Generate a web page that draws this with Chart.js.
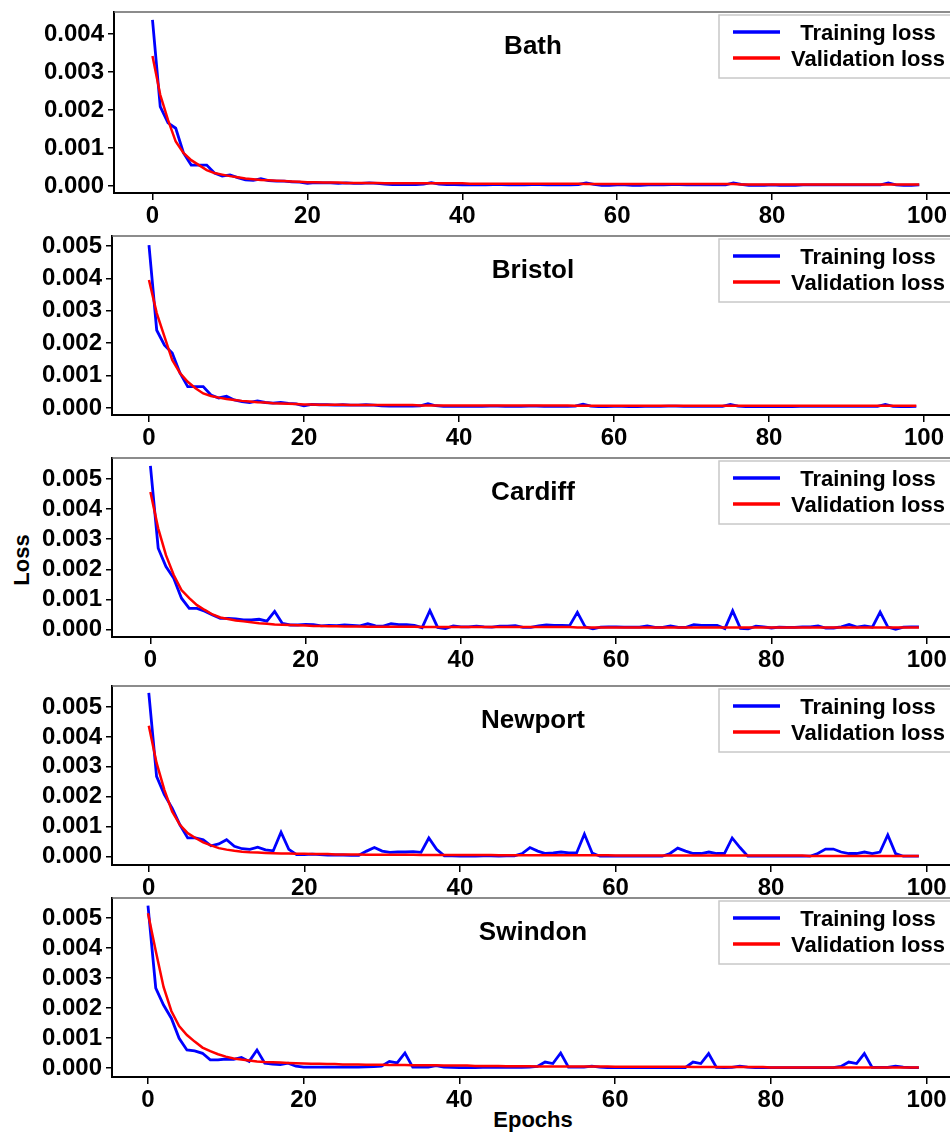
<!DOCTYPE html>
<html>
<head>
<meta charset="utf-8">
<title>Training and validation loss</title>
<script src="https://cdn.jsdelivr.net/npm/chart.js@4.4.1/dist/chart.umd.min.js"></script>
<style>
  html, body { margin: 0; padding: 0; background: #fff; }
  body { width: 950px; height: 1133px; position: relative; overflow: hidden; font-family: "Liberation Sans", Arial, sans-serif; }
  canvas { position: absolute; left: 0; }
  .axis-label { position: absolute; font-weight: bold; font-size: 22px; color: #000; white-space: nowrap; }
  #lossLabel { left: 22px; top: 560px; transform: translate(-50%, -50%) rotate(-90deg); }
  #epochsLabel { left: 533px; top: 1120px; transform: translate(-50%, -50%); }
</style>
</head>
<body>
<div class="axis-label" id="lossLabel">Loss</div>
<div class="axis-label" id="epochsLabel">Epochs</div>
<script>
const cities = ["Bath", "Bristol", "Cardiff", "Newport", "Swindon"]
const epochs = Array.from({ length: 100 }, (_, i) => i)
const yTicks = [0, 0.001, 0.002, 0.003, 0.004, 0.005]
const xTicks = [0, 20, 40, 60, 80, 100]

const bathTrain = [
  0.00437, 0.00209, 0.00166, 0.00152, 0.00087, 0.00055, 0.00055, 0.00055, 0.00034, 0.00026,
  0.00029, 0.00022, 0.00016, 0.00015, 0.00019, 0.00014, 0.00013, 0.00013, 0.00011, 0.00010,
  0.00007, 0.00009, 0.00008, 0.00008, 0.00007, 0.00008, 0.00007, 0.00007, 0.00008, 0.00007,
  0.00005, 0.00004, 0.00004, 0.00004, 0.00004, 0.00005, 0.00009, 0.00005, 0.00004, 0.00004,
  0.00003, 0.00003, 0.00003, 0.00003, 0.00004, 0.00004, 0.00003, 0.00003, 0.00003, 0.00004,
  0.00004, 0.00003, 0.00003, 0.00003, 0.00003, 0.00004, 0.00008, 0.00004, 0.00002, 0.00002,
  0.00003, 0.00003, 0.00002, 0.00002, 0.00003, 0.00003, 0.00003, 0.00004, 0.00004, 0.00003,
  0.00003, 0.00003, 0.00003, 0.00003, 0.00003, 0.00008, 0.00004, 0.00002, 0.00002, 0.00002,
  0.00003, 0.00002, 0.00002, 0.00002, 0.00003, 0.00003, 0.00003, 0.00003, 0.00003, 0.00003,
  0.00003, 0.00003, 0.00003, 0.00003, 0.00003, 0.00008, 0.00003, 0.00002, 0.00002, 0.00003,
]
const bathVal = [
  0.00342, 0.00240, 0.00174, 0.00117, 0.00087, 0.00068, 0.00055, 0.00042, 0.00034, 0.00030,
  0.00026, 0.00023, 0.00020, 0.00018, 0.00016, 0.00015, 0.00014, 0.00013, 0.00012, 0.00011,
  0.00010, 0.00010, 0.00009, 0.00009, 0.00009, 0.00008, 0.00008, 0.00008, 0.00008, 0.00008,
  0.00007, 0.00007, 0.00007, 0.00007, 0.00007, 0.00007, 0.00007, 0.00007, 0.00007, 0.00007,
  0.00007, 0.00006, 0.00006, 0.00006, 0.00006, 0.00006, 0.00006, 0.00006, 0.00006, 0.00006,
  0.00006, 0.00006, 0.00006, 0.00006, 0.00006, 0.00006, 0.00005, 0.00005, 0.00005, 0.00005,
  0.00005, 0.00005, 0.00005, 0.00005, 0.00005, 0.00005, 0.00005, 0.00005, 0.00005, 0.00005,
  0.00005, 0.00005, 0.00005, 0.00005, 0.00005, 0.00005, 0.00004, 0.00004, 0.00004, 0.00004,
  0.00004, 0.00004, 0.00004, 0.00004, 0.00004, 0.00004, 0.00004, 0.00004, 0.00004, 0.00004,
  0.00004, 0.00004, 0.00004, 0.00004, 0.00004, 0.00004, 0.00004, 0.00004, 0.00004, 0.00004,
]

const bristolTrain = [
  0.00503, 0.00240, 0.00194, 0.00170, 0.00108, 0.00066, 0.00066, 0.00066, 0.00040, 0.00031,
  0.00036, 0.00025, 0.00020, 0.00017, 0.00022, 0.00017, 0.00015, 0.00017, 0.00014, 0.00013,
  0.00007, 0.00011, 0.00010, 0.00010, 0.00009, 0.00010, 0.00009, 0.00009, 0.00010, 0.00009,
  0.00007, 0.00006, 0.00006, 0.00006, 0.00006, 0.00007, 0.00013, 0.00007, 0.00005, 0.00005,
  0.00005, 0.00005, 0.00005, 0.00005, 0.00006, 0.00006, 0.00005, 0.00005, 0.00005, 0.00006,
  0.00006, 0.00005, 0.00005, 0.00005, 0.00005, 0.00006, 0.00012, 0.00006, 0.00004, 0.00004,
  0.00005, 0.00005, 0.00004, 0.00004, 0.00005, 0.00005, 0.00005, 0.00006, 0.00006, 0.00005,
  0.00005, 0.00005, 0.00005, 0.00005, 0.00005, 0.00011, 0.00006, 0.00004, 0.00004, 0.00004,
  0.00005, 0.00004, 0.00004, 0.00004, 0.00005, 0.00005, 0.00005, 0.00005, 0.00005, 0.00005,
  0.00005, 0.00005, 0.00005, 0.00005, 0.00005, 0.00011, 0.00005, 0.00004, 0.00004, 0.00005,
]
const bristolVal = [
  0.00395, 0.00293, 0.00220, 0.00148, 0.00108, 0.00081, 0.00061, 0.00045, 0.00037, 0.00032,
  0.00028, 0.00025, 0.00022, 0.00020, 0.00018, 0.00017, 0.00015, 0.00014, 0.00013, 0.00012,
  0.00011, 0.00011, 0.00010, 0.00010, 0.00010, 0.00010, 0.00009, 0.00009, 0.00009, 0.00009,
  0.00009, 0.00009, 0.00009, 0.00009, 0.00009, 0.00008, 0.00008, 0.00008, 0.00008, 0.00008,
  0.00008, 0.00008, 0.00008, 0.00008, 0.00008, 0.00008, 0.00008, 0.00008, 0.00008, 0.00008,
  0.00008, 0.00008, 0.00008, 0.00008, 0.00008, 0.00007, 0.00007, 0.00007, 0.00007, 0.00007,
  0.00007, 0.00007, 0.00007, 0.00007, 0.00007, 0.00007, 0.00007, 0.00007, 0.00007, 0.00007,
  0.00007, 0.00007, 0.00007, 0.00007, 0.00007, 0.00007, 0.00007, 0.00007, 0.00007, 0.00007,
  0.00007, 0.00007, 0.00007, 0.00007, 0.00007, 0.00007, 0.00007, 0.00007, 0.00007, 0.00007,
  0.00007, 0.00007, 0.00007, 0.00007, 0.00007, 0.00007, 0.00007, 0.00007, 0.00007, 0.00007,
]

const cardiffTrain = [
  0.00544, 0.00270, 0.00209, 0.00170, 0.00104, 0.00070, 0.00070, 0.00061, 0.00048, 0.00037,
  0.00037, 0.00035, 0.00032, 0.00032, 0.00034, 0.00028, 0.00060, 0.00020, 0.00015, 0.00015,
  0.00017, 0.00016, 0.00012, 0.00014, 0.00013, 0.00015, 0.00014, 0.00012, 0.00019, 0.00012,
  0.00011, 0.00019, 0.00016, 0.00016, 0.00014, 0.00006, 0.00063, 0.00007, 0.00003, 0.00012,
  0.00009, 0.00009, 0.00011, 0.00009, 0.00008, 0.00011, 0.00011, 0.00013, 0.00007, 0.00007,
  0.00012, 0.00015, 0.00014, 0.00014, 0.00013, 0.00057, 0.00009, 0.00002, 0.00008, 0.00009,
  0.00009, 0.00008, 0.00008, 0.00008, 0.00012, 0.00007, 0.00007, 0.00012, 0.00007, 0.00007,
  0.00016, 0.00014, 0.00014, 0.00014, 0.00003, 0.00062, 0.00004, 0.00002, 0.00011, 0.00009,
  0.00005, 0.00008, 0.00007, 0.00007, 0.00009, 0.00009, 0.00012, 0.00005, 0.00005, 0.00009,
  0.00017, 0.00008, 0.00012, 0.00008, 0.00058, 0.00008, 0.00001, 0.00008, 0.00009, 0.00009,
]
const cardiffVal = [
  0.00457, 0.00336, 0.00247, 0.00181, 0.00131, 0.00104, 0.00081, 0.00065, 0.00050, 0.00040,
  0.00035, 0.00030, 0.00027, 0.00024, 0.00021, 0.00019, 0.00017, 0.00016, 0.00015, 0.00014,
  0.00013, 0.00012, 0.00012, 0.00011, 0.00011, 0.00010, 0.00010, 0.00010, 0.00009, 0.00009,
  0.00009, 0.00009, 0.00009, 0.00009, 0.00009, 0.00008, 0.00008, 0.00008, 0.00008, 0.00008,
  0.00008, 0.00008, 0.00008, 0.00008, 0.00008, 0.00008, 0.00008, 0.00008, 0.00008, 0.00008,
  0.00008, 0.00008, 0.00008, 0.00008, 0.00008, 0.00007, 0.00007, 0.00007, 0.00007, 0.00007,
  0.00007, 0.00007, 0.00007, 0.00007, 0.00007, 0.00007, 0.00007, 0.00007, 0.00007, 0.00007,
  0.00007, 0.00007, 0.00007, 0.00007, 0.00007, 0.00007, 0.00007, 0.00007, 0.00007, 0.00007,
  0.00007, 0.00007, 0.00007, 0.00007, 0.00007, 0.00007, 0.00007, 0.00007, 0.00007, 0.00007,
  0.00007, 0.00007, 0.00007, 0.00007, 0.00007, 0.00007, 0.00007, 0.00007, 0.00007, 0.00007,
]

const newportTrain = [
  0.00547, 0.00268, 0.00207, 0.00162, 0.00106, 0.00062, 0.00062, 0.00056, 0.00036, 0.00042,
  0.00056, 0.00034, 0.00026, 0.00024, 0.00031, 0.00022, 0.00019, 0.00081, 0.00024, 0.00006,
  0.00006, 0.00008, 0.00006, 0.00005, 0.00005, 0.00005, 0.00004, 0.00004, 0.00018, 0.00030,
  0.00018, 0.00014, 0.00015, 0.00015, 0.00016, 0.00014, 0.00062, 0.00024, 0.00002, 0.00002,
  0.00001, 0.00002, 0.00001, 0.00002, 0.00002, 0.00001, 0.00002, 0.00002, 0.00010, 0.00030,
  0.00018, 0.00010, 0.00012, 0.00015, 0.00012, 0.00012, 0.00075, 0.00012, 0.00001, 0.00001,
  0.00001, 0.00001, 0.00001, 0.00001, 0.00001, 0.00001, 0.00001, 0.00010, 0.00028, 0.00018,
  0.00010, 0.00010, 0.00015, 0.00010, 0.00010, 0.00062, 0.00030, 0.00001, 0.00001, 0.00001,
  0.00001, 0.00001, 0.00001, 0.00001, 0.00001, 0.00001, 0.00010, 0.00025, 0.00025, 0.00015,
  0.00010, 0.00010, 0.00015, 0.00010, 0.00015, 0.00072, 0.00010, 0.00001, 0.00001, 0.00001,
]
const newportVal = [
  0.00437, 0.00313, 0.00223, 0.00151, 0.00106, 0.00078, 0.00062, 0.00047, 0.00037, 0.00028,
  0.00023, 0.00019, 0.00016, 0.00014, 0.00013, 0.00012, 0.00011, 0.00010, 0.00010, 0.00009,
  0.00009, 0.00008, 0.00008, 0.00008, 0.00007, 0.00007, 0.00007, 0.00007, 0.00006, 0.00006,
  0.00006, 0.00006, 0.00006, 0.00006, 0.00006, 0.00005, 0.00005, 0.00005, 0.00005, 0.00005,
  0.00005, 0.00005, 0.00005, 0.00005, 0.00005, 0.00004, 0.00004, 0.00004, 0.00004, 0.00004,
  0.00004, 0.00004, 0.00004, 0.00004, 0.00004, 0.00004, 0.00004, 0.00004, 0.00004, 0.00004,
  0.00003, 0.00003, 0.00003, 0.00003, 0.00003, 0.00003, 0.00003, 0.00003, 0.00003, 0.00003,
  0.00003, 0.00003, 0.00003, 0.00003, 0.00003, 0.00003, 0.00003, 0.00003, 0.00003, 0.00003,
  0.00003, 0.00003, 0.00003, 0.00003, 0.00003, 0.00002, 0.00002, 0.00002, 0.00002, 0.00002,
  0.00002, 0.00002, 0.00002, 0.00002, 0.00002, 0.00002, 0.00002, 0.00002, 0.00002, 0.00002,
]

const swindonTrain = [
  0.00541, 0.00266, 0.00210, 0.00166, 0.00099, 0.00060, 0.00057, 0.00049, 0.00027, 0.00027,
  0.00030, 0.00029, 0.00035, 0.00022, 0.00060, 0.00016, 0.00013, 0.00011, 0.00016, 0.00006,
  0.00003, 0.00003, 0.00003, 0.00003, 0.00003, 0.00003, 0.00003, 0.00003, 0.00004, 0.00005,
  0.00006, 0.00022, 0.00017, 0.00050, 0.00003, 0.00003, 0.00003, 0.00008, 0.00003, 0.00002,
  0.00001, 0.00001, 0.00001, 0.00002, 0.00002, 0.00002, 0.00002, 0.00002, 0.00002, 0.00003,
  0.00005, 0.00020, 0.00015, 0.00050, 0.00003, 0.00003, 0.00003, 0.00006, 0.00003, 0.00001,
  0.00001, 0.00001, 0.00001, 0.00001, 0.00001, 0.00001, 0.00001, 0.00001, 0.00001, 0.00001,
  0.00020, 0.00015, 0.00048, 0.00002, 0.00001, 0.00002, 0.00006, 0.00003, 0.00001, 0.00001,
  0.00001, 0.00001, 0.00001, 0.00001, 0.00001, 0.00001, 0.00001, 0.00001, 0.00001, 0.00005,
  0.00020, 0.00015, 0.00048, 0.00002, 0.00002, 0.00002, 0.00006, 0.00003, 0.00001, 0.00001,
]
const swindonVal = [
  0.00516, 0.00390, 0.00270, 0.00190, 0.00140, 0.00110, 0.00088, 0.00068, 0.00056, 0.00046,
  0.00038, 0.00032, 0.00028, 0.00025, 0.00022, 0.00020, 0.00019, 0.00018, 0.00017, 0.00016,
  0.00015, 0.00014, 0.00014, 0.00013, 0.00013, 0.00012, 0.00012, 0.00012, 0.00011, 0.00011,
  0.00011, 0.00010, 0.00010, 0.00010, 0.00009, 0.00009, 0.00009, 0.00009, 0.00008, 0.00008,
  0.00008, 0.00008, 0.00007, 0.00007, 0.00007, 0.00007, 0.00006, 0.00006, 0.00006, 0.00006,
  0.00005, 0.00005, 0.00005, 0.00005, 0.00005, 0.00005, 0.00005, 0.00005, 0.00005, 0.00005,
  0.00004, 0.00004, 0.00004, 0.00004, 0.00004, 0.00004, 0.00004, 0.00004, 0.00004, 0.00004,
  0.00003, 0.00003, 0.00003, 0.00003, 0.00003, 0.00003, 0.00003, 0.00003, 0.00003, 0.00003,
  0.00002, 0.00002, 0.00002, 0.00002, 0.00002, 0.00002, 0.00002, 0.00002, 0.00002, 0.00002,
  0.00002, 0.00002, 0.00002, 0.00002, 0.00002, 0.00002, 0.00002, 0.00002, 0.00002, 0.00002,
]

const trainLoss = [bathTrain, bristolTrain, cardiffTrain, newportTrain, swindonTrain]
const valLoss = [bathVal, bristolVal, cardiffVal, newportVal, swindonVal]

// page layout of each subplot (pixel box of the plot area + axis limits)
const panels = [
  { top: 12, bottom: 193, left: 114, xMin: -4.97, xMax: 102.97, yMin: -0.000184, yMax: 0.004579 },
  { top: 236, bottom: 415, left: 112, xMin: -4.77, xMax: 103.35, yMin: -0.000216, yMax: 0.005309 },
  { top: 458, bottom: 637, left: 112, xMin: -4.95, xMax: 103.0, yMin: -0.000249, yMax: 0.005698 },
  { top: 686, bottom: 865, left: 112, xMin: -4.73, xMax: 103.0, yMin: -0.000284, yMax: 0.005702 },
  { top: 898, bottom: 1077, left: 112, xMin: -4.62, xMax: 103.0, yMin: -0.0003, yMax: 0.005667 },
]

const BLUE = "#0000ff"
const RED = "#ff0000"
const FONT = "'Liberation Sans', Arial, sans-serif"
const PAD_TOP = 10
const X_AXIS_H = 40

// city title, top spine and boxed legend inside the plot area
const panelDecor = {
  id: "panelDecor",
  afterDraw(chart, args, opts) {
    const { ctx, chartArea } = chart
    ctx.save()
    ctx.strokeStyle = "#666"
    ctx.lineWidth = 1.5
    ctx.beginPath()
    ctx.moveTo(chartArea.left, chartArea.top)
    ctx.lineTo(chartArea.right, chartArea.top)
    ctx.stroke()

    ctx.fillStyle = "#000"
    ctx.font = "bold 26px " + FONT
    ctx.textAlign = "center"
    ctx.textBaseline = "middle"
    ctx.fillText(opts.city, 533, chartArea.top + 35)

    const bx = 719
    const by = chartArea.top + 3
    ctx.fillStyle = "#fff"
    ctx.fillRect(bx, by, 240, 63)
    ctx.strokeStyle = "#c8c8c8"
    ctx.lineWidth = 1.5
    ctx.strokeRect(bx, by, 240, 63)

    ctx.font = "bold 22px " + FONT
    chart.data.datasets.forEach((ds, k) => {
      const ly = by + 17 + k * 26
      ctx.strokeStyle = ds.borderColor
      ctx.lineWidth = 3.5
      ctx.beginPath()
      ctx.moveTo(733, ly)
      ctx.lineTo(780, ly)
      ctx.stroke()
      ctx.fillStyle = "#000"
      ctx.fillText(ds.label, 868, ly + 2)
    })
    ctx.restore()
  },
}

function makeChart(i) {
  const p = panels[i]
  const canvas = document.createElement("canvas")
  const canvasTop = p.top - PAD_TOP
  canvas.width = 950
  canvas.height = p.bottom - canvasTop + X_AXIS_H
  canvas.style.top = canvasTop + "px"
  document.body.appendChild(canvas)

  new Chart(canvas.getContext("2d"), {
    type: "line",
    data: {
      labels: epochs,
      datasets: [
        { label: "Training loss", data: trainLoss[i], borderColor: BLUE, borderWidth: 2.8, order: 1 },
        { label: "Validation loss", data: valLoss[i], borderColor: RED, borderWidth: 2.5, order: 0 },
      ],
    },
    options: {
      responsive: false,
      animation: false,
      layout: { padding: { top: PAD_TOP, right: 0, bottom: 0, left: 0 } },
      elements: { point: { radius: 0 }, line: { tension: 0 } },
      plugins: {
        legend: { display: false },
        tooltip: { enabled: false },
        panelDecor: { city: cities[i] },
      },
      scales: {
        x: {
          type: "linear",
          min: p.xMin,
          max: p.xMax,
          afterFit: (s) => {
            s.height = X_AXIS_H
            s.paddingLeft = 0
            s.paddingRight = 0
          },
          afterBuildTicks: (s) => { s.ticks = xTicks.map((v) => ({ value: v })) },
          ticks: {
            autoSkip: false,
            maxRotation: 0,
            padding: 2,
            color: "#000",
            font: { family: FONT, size: 24, weight: "bold" },
          },
          grid: { drawOnChartArea: false, drawTicks: true, tickLength: 7, color: "#000", lineWidth: 1.5 },
          border: { display: true, color: "#000", width: 2 },
        },
        y: {
          min: p.yMin,
          max: p.yMax,
          afterFit: (s) => {
            s.width = p.left
            s.paddingTop = 0
            s.paddingBottom = 0
          },
          afterBuildTicks: (s) => { s.ticks = yTicks.filter((v) => v <= p.yMax).map((v) => ({ value: v })) },
          ticks: {
            autoSkip: false,
            padding: 4,
            color: "#000",
            font: { family: FONT, size: 24, weight: "bold" },
            callback: (v) => v.toFixed(3),
          },
          grid: { drawOnChartArea: false, drawTicks: true, tickLength: 6, color: "#000", lineWidth: 1.5 },
          border: { display: true, color: "#000", width: 2 },
        },
      },
    },
    plugins: [panelDecor],
  })
}

cities.forEach((c, i) => makeChart(i))
</script>
</body>
</html>
